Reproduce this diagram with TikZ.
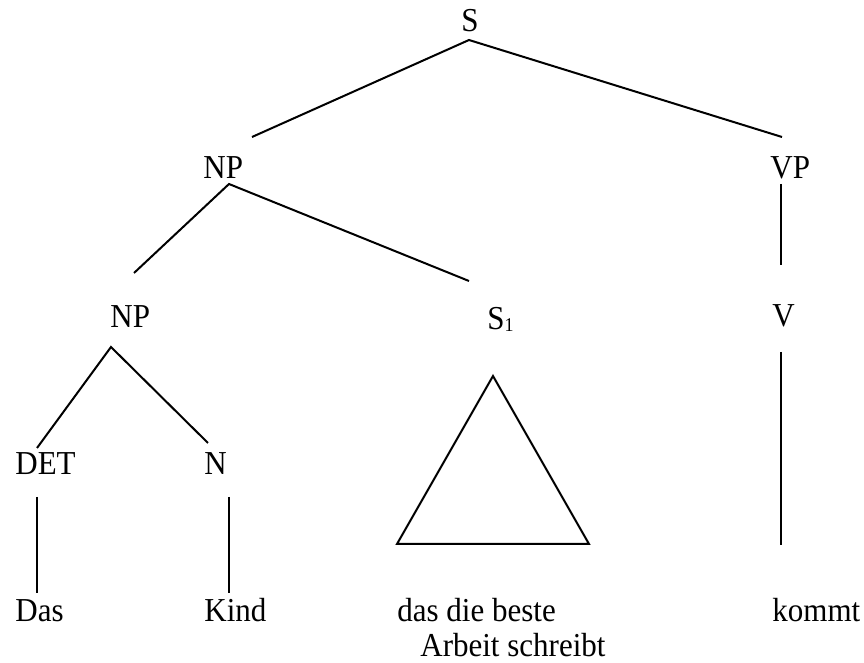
\documentclass[tikz,border=0pt]{standalone}
\usepackage{fontspec}
\setmainfont{Liberation Serif}
\usetikzlibrary{positioning}
\newcommand{\tall}[1]{\scalebox{1}[1.08]{#1}}
\tikzset{
  cat/.style={inner sep=0pt,anchor=base west,font=\fontsize{15.5pt}{17.5pt}\selectfont},
  branch/.style={line width=1pt},
  roof/.style={line width=1pt,line join=miter}
}

\begin{document}
\begin{tikzpicture}[x=0.5pt,y=-0.5pt]
  \useasboundingbox (0,0) rectangle (864,663);

  % category labels
  \node[cat] (s) at (461,32) {\tall{S}};
  \node[cat] (np) at (203,179) {\tall{NP}};
  \node[cat] (vp) at (770,179) {\tall{VP}};
  \node[cat] (np2) at (110,328) {\tall{NP}};
  \node[cat] (s1) at (487,330) {\tall{S\raisebox{-0.5pt}{\fontsize{9pt}{9pt}\selectfont 1}}};
  \node[cat] (v) at (772,327) {\tall{V}};
  \node[cat] (det) at (15,475) {\tall{DET}};
  \node[cat] (n) at (204,475) {\tall{N}};

  % terminal words (base of the two-line node sits on its last line)
  \node[cat] (das) at (15,622) {\tall{Das}};
  \node[cat] (kind) at (204,622) {\tall{Kind}};
  \node[cat,align=left] (rel) at (397,657) {\tall{das die beste}\\\hspace*{11.5pt}\tall{Arbeit schreibt}};
  \node[cat] (kommt) at (772,622) {\tall{kommt}};

  % branch end points
  \coordinate (s-fork) at (469,40);
  \coordinate (np-top) at (252,137);
  \coordinate (vp-top) at (782,137);
  \coordinate (np-fork) at (229,184);
  \coordinate (np2-top) at (134,273);
  \coordinate (s1-top) at (469,281);
  \coordinate (vp-foot) at (781,184);
  \coordinate (v-top) at (781,265);
  \coordinate (np2-fork) at (111,347);
  \coordinate (det-top) at (37,448);
  \coordinate (n-top) at (208,443);
  \coordinate (det-foot) at (37,497);
  \coordinate (das-top) at (37,593);
  \coordinate (n-foot) at (229,497);
  \coordinate (kind-top) at (229,593);
  \coordinate (v-foot) at (781,352);
  \coordinate (kommt-top) at (781,545);
  \coordinate (roof-top) at (493,376);
  \coordinate (roof-left) at (397,544);
  \coordinate (roof-right) at (589,544);

  \draw[branch] (np-top) -- (s-fork) -- (vp-top);
  \draw[branch] (np2-top) -- (np-fork) -- (s1-top);
  \draw[branch] (vp-foot) -- (v-top);
  \draw[branch] (det-top) -- (np2-fork) -- (n-top);
  \draw[branch] (det-foot) -- (das-top);
  \draw[branch] (n-foot) -- (kind-top);
  \draw[branch] (v-foot) -- (kommt-top);
  \draw[roof] (roof-top) -- (roof-left) -- (roof-right) -- cycle;
\end{tikzpicture}
\end{document}
